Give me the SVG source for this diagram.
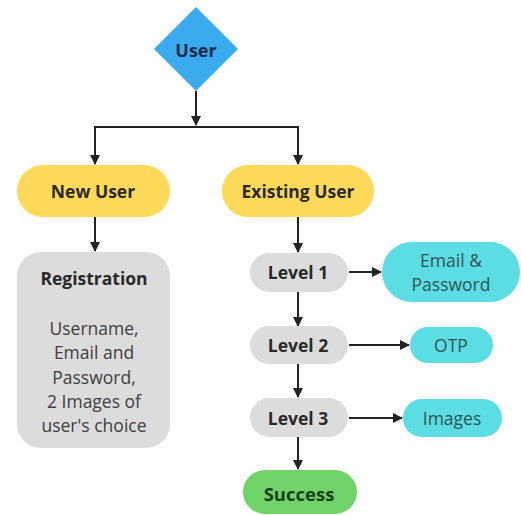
<svg xmlns="http://www.w3.org/2000/svg" width="521" height="515" viewBox="0 0 521 515">
  <defs>
    <marker id="arrow" viewBox="0 0 10 10" refX="9" refY="5" markerWidth="5" markerHeight="5" orient="auto" markerUnits="strokeWidth">
      <path d="M0,0 L10,5 L0,10 z" fill="#222"/>
    </marker>
    <style>
      .lbl { font-family: "Open Sans", "Liberation Sans", sans-serif; text-anchor: middle; dominant-baseline: central; }
      .bold { font-weight: 700; fill: #2a2a2a; }
      .body { font-weight: 400; fill: #404040; font-size: 17.5px; }
      .tealtxt { fill: #2c5457; font-size: 17.5px; }
      .yellow { fill: #FFDA5A; }
      .grey { fill: #DCDCDC; }
      .cyan { fill: #5CDDE3; }
      .edge { stroke: #222; stroke-width: 2; fill: none; }
    </style>
  </defs>
  <rect width="521" height="515" fill="#ffffff"/>

  <g id="connectors">
    <path class="edge" d="M196,91 V125" marker-end="url(#arrow)"/>
    <path class="edge" d="M95,127 H298"/>
    <path class="edge" d="M95,126 V164" marker-end="url(#arrow)"/>
    <path class="edge" d="M298,126 V164" marker-end="url(#arrow)"/>
    <path class="edge" d="M95,217 V251" marker-end="url(#arrow)"/>
    <path class="edge" d="M298,217 V252" marker-end="url(#arrow)"/>
    <path class="edge" d="M298,292 V326" marker-end="url(#arrow)"/>
    <path class="edge" d="M298,363 V397" marker-end="url(#arrow)"/>
    <path class="edge" d="M298,437 V469" marker-end="url(#arrow)"/>
    <path class="edge" d="M349,272 H381" marker-end="url(#arrow)"/>
    <path class="edge" d="M349,345 H409" marker-end="url(#arrow)"/>
    <path class="edge" d="M349,418 H402" marker-end="url(#arrow)"/>
  </g>

  <g id="user">
    <polygon points="196,7 238,49 196,91 154,49" fill="#3AABEF"/>
    <text class="lbl bold" x="196" y="50" font-size="18" style="fill:#1d2b4a">User</text>
  </g>

  <g id="new-user">
    <rect class="yellow" x="17" y="165" width="153" height="52" rx="26"/>
    <text class="lbl bold" x="93" y="191" font-size="17.5">New User</text>
  </g>

  <g id="existing-user">
    <rect class="yellow" x="222" y="165" width="152" height="52" rx="26"/>
    <text class="lbl bold" x="298" y="191" font-size="17.5">Existing User</text>
  </g>

  <g id="registration">
    <rect class="grey" x="17" y="252" width="153" height="196" rx="24"/>
    <text class="lbl bold" x="94" y="278" font-size="17.5">Registration</text>
    <text class="lbl body" x="94" y="328">Username,</text>
    <text class="lbl body" x="94" y="352">Email and</text>
    <text class="lbl body" x="94" y="377">Password,</text>
    <text class="lbl body" x="94" y="401">2 Images of</text>
    <text class="lbl body" x="94" y="425">user's choice</text>
  </g>

  <g id="level-1">
    <rect class="grey" x="250" y="253" width="98" height="39" rx="19.5"/>
    <text class="lbl bold" x="298" y="272" font-size="17.5">Level 1</text>
  </g>

  <g id="level-2">
    <rect class="grey" x="250" y="326" width="98" height="38" rx="19"/>
    <text class="lbl bold" x="298" y="345" font-size="17.5">Level 2</text>
  </g>

  <g id="level-3">
    <rect class="grey" x="250" y="398" width="98" height="39" rx="19.5"/>
    <text class="lbl bold" x="298" y="418" font-size="17.5">Level 3</text>
  </g>

  <g id="email-password">
    <rect class="cyan" x="382" y="242" width="138" height="60" rx="30"/>
    <text class="lbl tealtxt" x="451" y="260">Email &amp;</text>
    <text class="lbl tealtxt" x="451" y="284">Password</text>
  </g>

  <g id="otp">
    <rect class="cyan" x="410" y="327" width="83" height="36" rx="18"/>
    <text class="lbl tealtxt" x="451" y="345">OTP</text>
  </g>

  <g id="images">
    <rect class="cyan" x="403" y="399" width="99" height="38" rx="19"/>
    <text class="lbl tealtxt" x="452" y="418">Images</text>
  </g>

  <g id="success">
    <rect x="243" y="470" width="114" height="44" rx="22" fill="#6FD36A"/>
    <text class="lbl" x="299" y="493" font-size="18.5" font-weight="700" fill="#1e3d1e">Success</text>
  </g>
</svg>
